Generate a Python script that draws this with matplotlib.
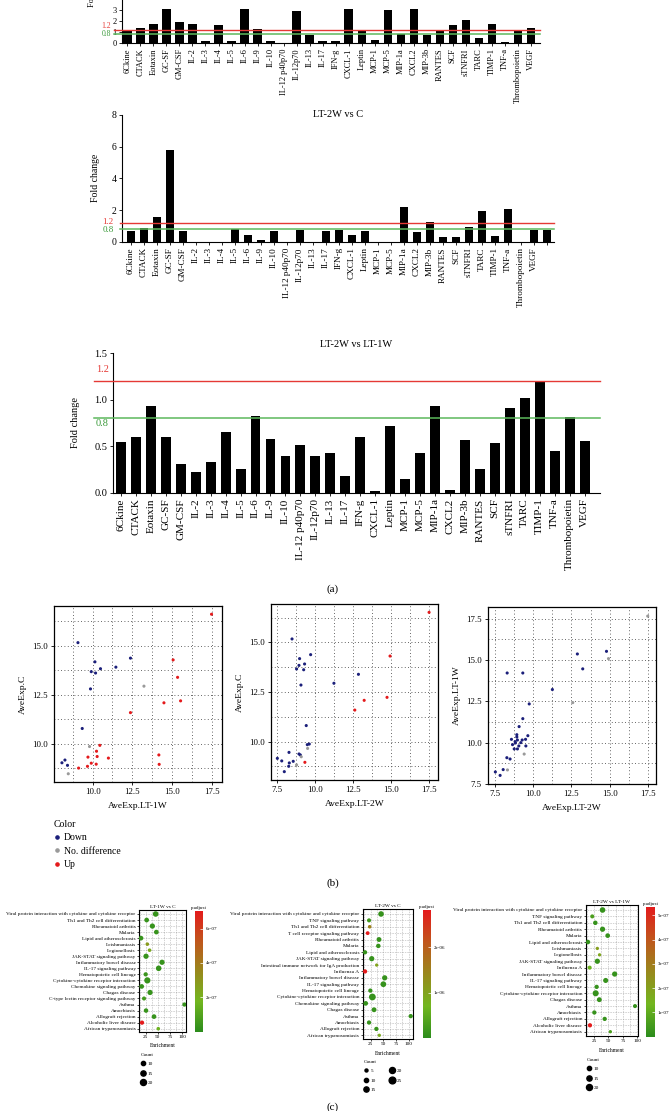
import numpy as np
import matplotlib
matplotlib.use("Agg")
import matplotlib.pyplot as plt
from matplotlib.colors import LinearSegmentedColormap
from matplotlib.lines import Line2D
from matplotlib.ticker import MultipleLocator, FormatStrFormatter

plt.rcParams['font.family'] = ['Liberation Serif', 'DejaVu Serif']

# ---------------- data: (a) cytokine fold changes ----------------
cytokines = ['6Ckine', 'CTACK', 'Eotaxin', 'GC-SF', 'GM-CSF', 'IL-2', 'IL-3', 'IL-4', 'IL-5',
             'IL-6', 'IL-9', 'IL-10', 'IL-12 p40p70', 'IL-12p70', 'IL-13', 'IL-17', 'IFN-g',
             'CXCL-1', 'Leptin', 'MCP-1', 'MCP-5', 'MIP-1a', 'CXCL2', 'MIP-3b', 'RANTES', 'SCF',
             'sTNFRI', 'TARC', 'TIMP-1', 'TNF-a', 'Thrombopoietin', 'VEGF']
fc_1w_c = [1.16, 1.38, 1.68, 3.05, 1.93, 1.68, 0.12, 1.65, 0.12, 3.05, 1.22, 0.12, 0.0, 2.94,
           0.73, 0.15, 0.15, 3.05, 1.13, 0.25, 3.03, 0.80, 3.05, 0.67, 1.10, 1.59, 2.11, 0.46,
           1.71, 0.06, 1.07, 1.35]
labels_2w_c = cytokines + ['']
fc_2w_c = [0.67, 0.88, 1.54, 5.79, 0.69, 0.0, 0.0, 0.0, 0.78, 0.40, 0.08, 0.69, 0.0, 0.72,
           0.0, 0.67, 0.74, 0.40, 0.65, 0.0, 0.0, 2.21, 0.61, 1.24, 0.29, 0.29, 0.93, 1.94,
           0.36, 2.04, 0.0, 0.74, 0.76]
fc_2w_1w = [0.55, 0.60, 0.93, 0.60, 0.31, 0.22, 0.33, 0.65, 0.25, 0.82, 0.58, 0.39, 0.51,
            0.40, 0.43, 0.175, 0.60, 0.015, 0.72, 0.15, 0.43, 0.93, 0.03, 0.57, 0.25, 0.54,
            0.91, 1.02, 1.19, 0.45, 0.81, 0.56]
up_cut, down_cut = 1.2, 0.8

# ---------------- data: (b) average expression scatter ----------------
s1_x = [9.08, 10.15, 9.92, 10.19, 10.5, 11.47, 12.39, 9.87, 9.35, 8.26, 8.07, 8.42,
        13.24, 9.81, 8.47,
        17.5, 15.08, 15.36, 14.5, 15.55, 12.39, 10.46, 10.25, 10.29, 9.71, 11.0, 14.18, 14.2,
        9.92, 10.23, 9.68, 9.12]
s1_y = [15.17, 14.19, 13.69, 13.62, 13.84, 13.92, 14.38, 12.81, 10.79, 9.18, 9.04, 8.91,
        12.95, 9.87, 8.48,
        16.62, 14.29, 13.4, 12.1, 12.2, 11.6, 9.93, 9.63, 9.36, 9.33, 9.28, 9.44, 8.96,
        9.02, 8.97, 8.86, 8.77]
s1_g = ['Down'] * 12 + ['No. difference'] * 3 + ['Up'] * 17

s2_x = [8.47, 9.7, 8.97, 8.93, 9.3, 8.77, 9.24, 9.06, 11.24, 12.86, 9.41, 9.61, 9.48, 8.27,
        8.93, 9.02, 7.5, 7.79, 8.29, 8.55, 8.25, 7.96,
        9.5, 9.08, 8.77,
        17.53, 14.95, 13.24, 12.62, 14.75, 9.32]
s2_y = [15.17, 14.38, 14.18, 13.84, 13.91, 13.66, 13.62, 12.85, 12.94, 13.39, 10.81, 9.88,
        9.85, 9.46, 9.38, 9.33, 9.16, 9.03, 8.93, 9.01, 8.76, 8.49,
        9.66, 9.24, 8.83,
        16.51, 14.31, 12.08, 11.59, 12.23, 8.96]
s2_g = ['Down'] * 22 + ['No. difference'] * 3 + ['Up'] * 6

s3_x = [14.79, 12.89, 13.24, 8.31, 9.33, 11.26, 9.75, 9.33, 9.09, 8.94, 8.94, 9.66, 8.59,
        8.98, 9.29, 9.51, 8.85, 9.2, 8.66, 9.07, 9.53, 8.77, 8.98, 8.83, 8.29, 8.5, 8.05,
        7.54, 7.85,
        17.48, 14.92, 12.59, 9.42, 8.33]
s3_y = [15.52, 15.36, 14.46, 14.21, 14.21, 13.21, 12.34, 11.45, 10.97, 10.48, 10.34, 10.42,
        10.2, 10.16, 10.16, 10.2, 9.98, 10.0, 9.88, 9.8, 9.8, 9.62, 9.62, 10.06, 9.09, 9.01,
        8.37, 8.23, 8.02,
        17.65, 15.08, 12.42, 9.31, 8.35]
s3_g = ['Down'] * 29 + ['No. difference'] * 5

# ---------------- data: (c) KEGG enrichment dot plots ----------------
c1_terms = ['Viral protein interaction with cytokine and cytokine receptor',
            'Th1 and Th2 cell differentiation', 'Rheumatoid arthritis', 'Malaria',
            'Lipid and atherosclerosis', 'Leishmaniasis', 'Legionellosis',
            'JAK-STAT signaling pathway', 'Inflammatory bowel disease', 'IL-17 signaling pathway',
            'Hematopoietic cell lineage', 'Cytokine-cytokine receptor interaction',
            'Chemokine signaling pathway', 'Chagas disease',
            'C-type lectin receptor signaling pathway', 'Asthma', 'Amoebiasis',
            'Allograft rejection', 'Alcoholic liver disease', 'African trypanosomiasis']
c1_enrich = [45.6, 27, 38.8, 47, 15.4, 28.4, 33, 25.7, 58.7, 51.8, 25, 28.4, 16.7, 34, 21.6,
             105, 25.7, 42.2, 17.4, 51]
c1_count = [17, 12, 15, 12, 12, 7, 7, 15, 15, 17, 10, 21, 12, 15, 9, 10, 11, 12, 10, 7]
c1_padj = [0.3e-7, 0.3e-7, 0.3e-7, 0.3e-7, 0.3e-7, 2.8e-7, 2.2e-7, 0.3e-7, 0.3e-7, 0.3e-7,
           0.4e-7, 0.3e-7, 0.3e-7, 0.3e-7, 0.6e-7, 0.3e-7, 0.3e-7, 0.3e-7, 7.0e-7, 1.6e-7]

c2_terms = ['Viral protein interaction with cytokine and cytokine receptor',
            'TNF signaling pathway', 'Th1 and Th2 cell differentiation',
            'T cell receptor signaling pathway', 'Rheumatoid arthritis', 'Malaria',
            'Lipid and atherosclerosis', 'JAK-STAT signaling pathway',
            'Intestinal immune network for IgA production', 'Influenza A',
            'Inflammatory bowel disease', 'IL-17 signaling pathway', 'Hematopoietic cell lineage',
            'Cytokine-cytokine receptor interaction', 'Chemokine signaling pathway',
            'Chagas disease', 'Asthma', 'Amoebiasis', 'Allograft rejection',
            'African trypanosomiasis']
c2_enrich = [45.4, 21.7, 23, 19, 41.4, 40, 13.8, 27, 36.8, 13.8, 52.6, 50, 24.3, 28.3, 15.1,
             31.6, 104, 21.7, 36.2, 42]
c2_count = [17, 9, 7, 8, 13, 11, 10, 15, 6, 10, 15, 18, 10, 25, 12, 13, 10, 10, 10, 6]
c2_padj = [0.1e-6, 0.2e-6, 1.5e-6, 2.8e-6, 0.1e-6, 0.1e-6, 0.1e-6, 0.1e-6, 1.0e-6, 2.8e-6,
           0.1e-6, 0.1e-6, 0.1e-6, 0.1e-6, 0.1e-6, 0.1e-6, 0.1e-6, 0.1e-6, 0.1e-6, 0.9e-6]

c3_terms = ['Viral protein interaction with cytokine and cytokine receptor',
            'TNF signaling pathway', 'Th1 and Th2 cell differentiation', 'Rheumatoid arthritis',
            'Malaria', 'Lipid and atherosclerosis', 'Leishmaniasis', 'Legionellosis',
            'JAK-STAT signaling pathway', 'Influenza A', 'Inflammatory bowel disease',
            'IL-17 signaling pathway', 'Hematopoietic cell lineage',
            'Cytokine-cytokine receptor interaction', 'Chagas disease', 'Asthma', 'Amoebiasis',
            'Allograft rejection', 'Alcoholic liver disease', 'African trypanosomiasis']
c3_enrich = [39.8, 22, 27.3, 39.8, 48.7, 14.6, 30.8, 34.6, 30.8, 17.5, 60.8, 45.2, 29.6, 27.9,
             34.2, 96, 25.6, 43.5, 18, 53.3]
c3_count = [17, 9, 11, 15, 12, 11, 6, 6, 15, 9, 15, 14, 10, 20, 13, 9, 10, 10, 10, 6]
c3_padj = [0.2e-7, 0.6e-7, 0.2e-7, 0.2e-7, 0.2e-7, 0.2e-7, 2.0e-7, 1.8e-7, 0.2e-7, 1.2e-7,
           0.2e-7, 0.2e-7, 0.2e-7, 0.2e-7, 0.2e-7, 0.2e-7, 0.2e-7, 0.2e-7, 5.3e-7, 0.6e-7]

# ---------------- layout helpers (pixel boxes on a 670x1111 canvas) ----------------
W, H = 670, 1111
fig = plt.figure(figsize=(W / 100, H / 100), dpi=100)


def rect(l, t, r, b):
    return [l / W, 1 - b / H, (r - l) / W, (b - t) / H]


def pt(x, y):
    return (x / W, 1 - y / H)


RED_LINE, GREEN_LINE = '#e53935', '#5cb85c'


def bar_panel(box, labels, vals, ylim, yticks, xlim, tick_fs, lab_fs, line_x0):
    ax = fig.add_axes(rect(*box))
    x = np.arange(len(vals))
    ax.bar(x, vals, width=0.66, color='black', zorder=2)
    ax.set_xticks(x)
    ax.set_xticklabels(labels, rotation=90, fontsize=lab_fs)
    ax.set_xlim(*xlim)
    ax.set_ylim(*ylim)
    ax.set_yticks(yticks)
    ax.tick_params(axis='y', labelsize=tick_fs, length=2.5, width=0.6, pad=1.5)
    ax.tick_params(axis='x', length=2.5, width=0.6, pad=1.5)
    for s in ['top', 'right']:
        ax.spines[s].set_visible(False)
    for s in ['left', 'bottom']:
        ax.spines[s].set_linewidth(0.8)
    tr = ax.get_yaxis_transform()
    ax.plot([line_x0, 1], [up_cut, up_cut], color=RED_LINE, lw=1.0, transform=tr,
            clip_on=False, zorder=3)
    ax.plot([line_x0, 1], [down_cut, down_cut], color=GREEN_LINE, lw=1.1, transform=tr,
            clip_on=False, zorder=3)
    return ax


# --- LT-1W vs C (top, cropped by the page edge) ---
bar_panel((122, -0.9, 540, 42.7), cytokines, fc_1w_c, (0, 4), [0, 1, 2, 3],
          (-0.41, 31.68), 6, 6, -0.02)
fig.text(*pt(106, 26), '1.2', color=RED_LINE, fontsize=5.5, ha='center', va='center')
fig.text(*pt(106, 34), '0.8', color='#3a9a3a', fontsize=5.5, ha='center', va='center')
fig.text(*pt(92, 7), 'Fold change', rotation=90, fontsize=6, ha='center', va='bottom')

# --- LT-2W vs C ---
ax2 = bar_panel((122, 115, 554, 241.7), labels_2w_c, fc_2w_c, (0, 8), [0, 2, 4, 6, 8],
                (-0.69, 32.54), 7, 6.6, -0.005)
ax2.text(0.5, 1.0, 'LT-2W vs C', transform=ax2.transAxes, ha='center', va='center',
         fontsize=7.5)
fig.text(*pt(108, 221.7), '1.2', color=RED_LINE, fontsize=6.5, ha='center', va='center')
fig.text(*pt(108, 229.5), '0.8', color='#3a9a3a', fontsize=6.5, ha='center', va='center')
fig.text(*pt(96, 178), 'Fold change', rotation=90, fontsize=7, ha='center', va='center')

# --- LT-2W vs LT-1W ---
ax3 = bar_panel((113, 353.3, 600, 492.7), cytokines, fc_2w_1w, (0, 1.5),
                [0.0, 0.5, 1.0, 1.5], (-0.53, 32.03), 7.5, 8, -0.04)
ax3.yaxis.set_major_formatter(FormatStrFormatter('%.1f'))
ax3.text(0.5, 1.065, 'LT-2W vs LT-1W', transform=ax3.transAxes, ha='center', va='center',
         fontsize=7.5)
fig.text(*pt(102.5, 369.3), '1.2', color=RED_LINE, fontsize=7.5, ha='center', va='center')
fig.text(*pt(102.5, 423.3), '0.8', color='#3a9a3a', fontsize=7.5, ha='center', va='center')
fig.text(*pt(75, 422), 'Fold change', rotation=90, fontsize=7.5, ha='center', va='center')

fig.text(*pt(333, 589), '(a)', fontsize=8, ha='center', va='center')

# ---------------- (b) scatter panels ----------------
grp_colors = {'Down': '#1b1f7a', 'No. difference': '#9a9a9a', 'Up': '#e41a1c'}


def scatter_panel(box, xs, ys, grps, xlim, ylim, xlabel, ylabel):
    ax = fig.add_axes(rect(*box))
    xs, ys, grps = np.array(xs), np.array(ys), np.array(grps)
    for g, c in grp_colors.items():
        m = grps == g
        ax.scatter(xs[m], ys[m], s=5, color=c, edgecolors='none', zorder=3)
    ax.set_xlim(*xlim)
    ax.set_ylim(*ylim)
    for axis in (ax.xaxis, ax.yaxis):
        axis.set_major_locator(MultipleLocator(2.5))
        axis.set_minor_locator(MultipleLocator(1.25))
        axis.set_major_formatter(FormatStrFormatter('%.1f'))
    ax.grid(which='both', ls=(0, (1, 3)), color='#333333', lw=0.6)
    ax.tick_params(which='major', labelsize=6.3, length=2.5, width=0.6, pad=2)
    ax.tick_params(which='minor', length=0)
    for s in ax.spines.values():
        s.set_linewidth(0.9)
    ax.set_xlabel(xlabel, fontsize=6.8, labelpad=4)
    ax.set_ylabel(ylabel, fontsize=6.8, labelpad=4)
    return ax


scatter_panel((54, 606, 222, 782), s1_x, s1_y, s1_g, (7.57, 18.16), (8.06, 17.04),
              'AveExp.LT-1W', 'AveExp.C')
scatter_panel((271, 604, 438, 780), s2_x, s2_y, s2_g, (7.08, 18.12), (8.07, 16.93),
              'AveExp.LT-2W', 'AveExp.C')
scatter_panel((488, 607, 656, 784), s3_x, s3_y, s3_g, (7.06, 18.02), (7.5, 18.2),
              'AveExp.LT-2W', 'AveExp.LT-1W')

handles = [Line2D([], [], marker='o', ls='', color=c, markersize=2.3, label=g)
           for g, c in grp_colors.items()]
fig.legend(handles=handles, title='Color', loc='upper left', bbox_to_anchor=pt(49, 815),
           frameon=False, fontsize=7, title_fontsize=7, alignment='left', borderpad=0,
           handlelength=0.6, handletextpad=0.4, labelspacing=0.45)

fig.text(*pt(333, 883), '(b)', fontsize=8, ha='center', va='center')

# ---------------- (c) enrichment dot plots ----------------
cmap = LinearSegmentedColormap.from_list(
    'padj', ['#2c8c1c', '#72b61f', '#98881c', '#c0561c', '#e41a1c'])


def enrich_panel(box, terms, enrich, count, padj, xlim, ylim, vmax, cbox, cticks, title,
                 leg_anchor, ncol):
    ax = fig.add_axes(rect(*box))
    y = np.arange(len(terms))
    sc = ax.scatter(enrich, y, s=np.array(count) * 0.95, c=padj, cmap=cmap, vmin=0,
                    vmax=vmax, edgecolors='none', zorder=3)
    ax.set_yticks(y)
    ax.set_yticklabels(terms, fontsize=3.9)
    ax.set_ylim(*ylim)
    ax.set_xlim(*xlim)
    ax.set_xticks([25, 50, 75, 100])
    ax.xaxis.set_minor_locator(MultipleLocator(12.5))
    ax.grid(which='both', ls=(0, (1, 2)), color='#777777', lw=0.4)
    ax.tick_params(labelsize=3.8, length=1.5, width=0.5, pad=1)
    ax.tick_params(which='minor', length=0)
    for s in ax.spines.values():
        s.set_linewidth(0.8)
    ax.set_xlabel('Enrichment', fontsize=4, labelpad=3)
    ax.set_title(title, fontsize=3.8, pad=1.5)

    cax = fig.add_axes(rect(*cbox))
    cb = fig.colorbar(sc, cax=cax)
    cb.set_ticks(cticks)
    cb.ax.set_yticklabels(['%.0e' % v for v in cticks], fontsize=3.6)
    cb.outline.set_visible(False)
    cb.ax.tick_params(length=2, width=0.5, color='white', direction='in', pad=2)
    cax.set_title('p.adjust', fontsize=3.6, pad=1.5)

    sizes = [5, 10, 15, 20, 25] if ncol == 2 else [10, 15, 20]
    hs = [Line2D([], [], marker='o', ls='', color='black', markersize=np.sqrt(v * 0.95),
                 label=str(v)) for v in sizes]
    fig.legend(handles=hs, title='Count', loc='upper left', bbox_to_anchor=pt(*leg_anchor),
               frameon=False, fontsize=3.8, title_fontsize=3.8, alignment='left',
               borderpad=0, handlelength=1.0, handletextpad=0.4, labelspacing=0.9,
               ncol=ncol, columnspacing=2.5)
    return ax


enrich_panel((139, 910, 185.7, 1031.7), c1_terms, c1_enrich, c1_count, c1_padj,
             (11.2, 107.6), (19.5, -0.66), 7.04e-7, (195, 910.7, 202.7, 1031.7),
             [2e-7, 4e-7, 6e-7], 'LT-1W vs C', (138, 1050), 1)
enrich_panel((362.7, 909, 412.7, 1039), c2_terms, c2_enrich, c2_count, c2_padj,
             (9.2, 107.9), (19.58, -0.78), 2.82e-6, (422.7, 910, 430.7, 1038),
             [1e-6, 2e-6], 'LT-2W vs C', (361, 1057), 2)
enrich_panel((585.5, 905, 638.3, 1036), c3_terms, c3_enrich, c3_count, c3_padj,
             (10.3, 101.7), (19.67, -0.78), 5.35e-7, (646, 906.7, 655, 1036.7),
             [1e-7, 2e-7, 3e-7, 4e-7, 5e-7], 'LT-2W vs LT-1W', (584, 1055), 1)

fig.text(*pt(333, 1107), '(c)', fontsize=8, ha='center', va='center')

fig.savefig('out.png', dpi=100)
